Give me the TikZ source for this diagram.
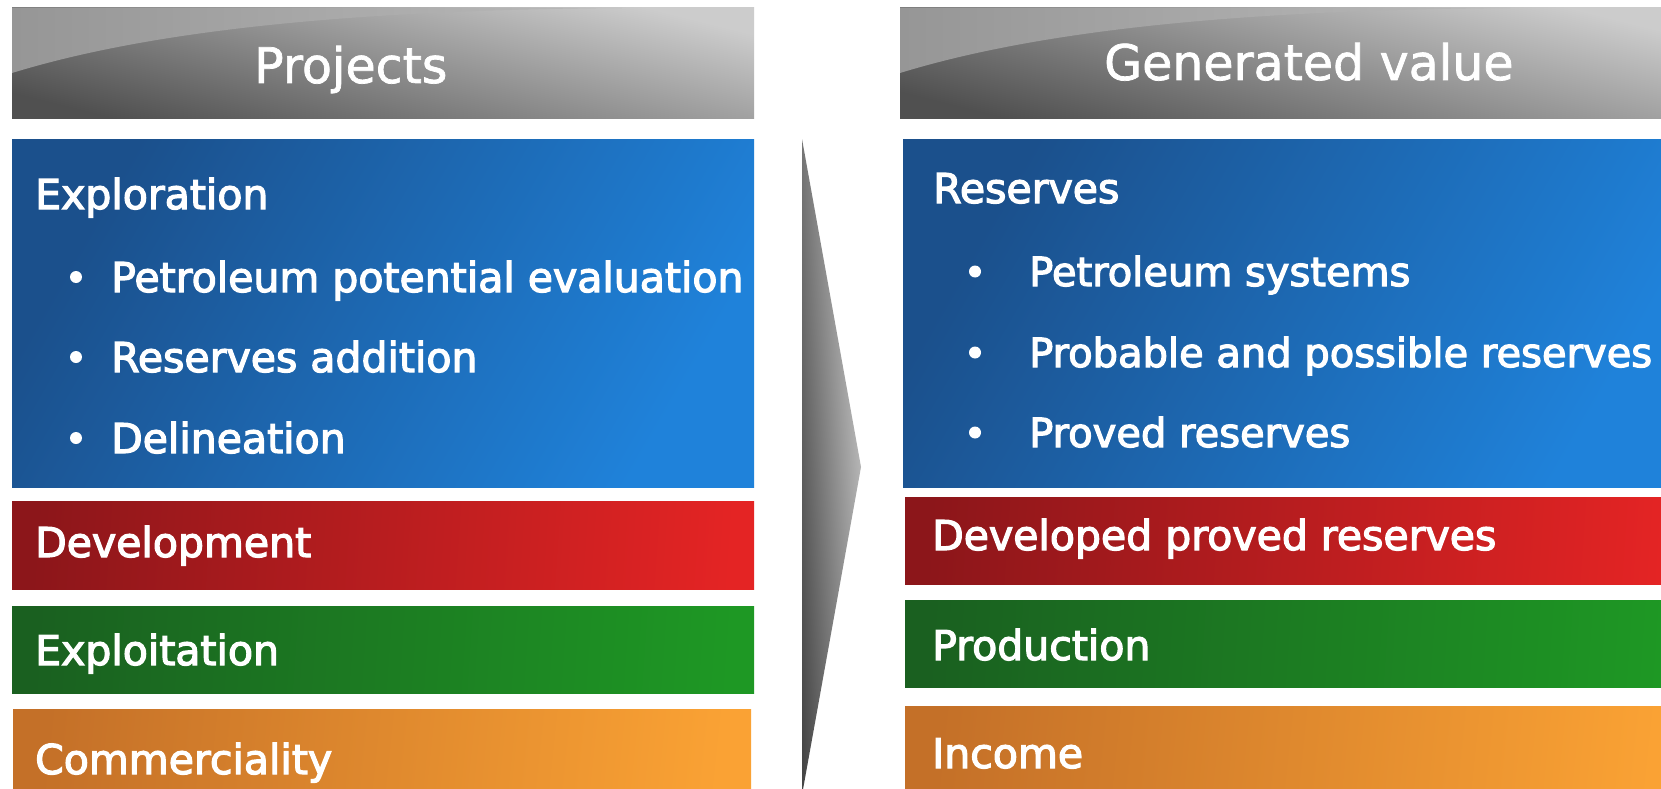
\documentclass[tikz,border=0pt]{standalone}
\usepackage{fontspec}
\setmainfont{DejaVu Sans}
\newfontfamily\boxfont{DejaVu Sans}[FakeBold=3]
\newfontfamily\hdrfont{DejaVu Sans}[FakeBold=1.5]
\usetikzlibrary{calc}

\tikzset{
  panel/.style n args={3}{anchor=north west, inner sep=0pt, outer sep=0pt,
    left color=#1, right color=#2, shading angle=#3},
  hdr/.style={anchor=north west, inner sep=0pt, outer sep=0pt, minimum height=111pt,
    top color=hdrLight, bottom color=hdrDark, shading angle=-14,
    path picture={
      \coordinate (nw) at (path picture bounding box.north west);
      \shade[left color=swooshA, right color=swooshB]
        (nw) -- ($(nw)+(610,0)$) .. controls ($(nw)+(340,2)$) and ($(nw)+(140,22)$) .. ($(nw)+(0,65)$) -- cycle;
    }},
  hdrtxt/.style={anchor=base west, inner sep=0pt, text=white, font=\hdrfont\fontsize{49}{58}\selectfont},
  lbl/.style={anchor=base west, inner sep=0pt, text=white, font=\boxfont\fontsize{41}{49}\selectfont},
  dot/.style={circle, fill=white, inner sep=0pt, minimum size=12pt}
}

\begin{document}
\begin{tikzpicture}[x=1pt,y=-1pt]
  \definecolor{hdrLight}{RGB}{204,204,204}
  \definecolor{hdrDark}{RGB}{80,80,80}
  \definecolor{swooshA}{RGB}{150,150,150}
  \definecolor{swooshB}{RGB}{186,186,186}
  \definecolor{blueA}{RGB}{27,80,140}
  \definecolor{blueB}{RGB}{31,130,218}
  \definecolor{redA}{RGB}{140,22,26}
  \definecolor{redB}{RGB}{228,36,36}
  \definecolor{greenA}{RGB}{26,96,32}
  \definecolor{greenB}{RGB}{30,152,36}
  \definecolor{orangeA}{RGB}{196,112,40}
  \definecolor{orangeB}{RGB}{250,162,52}
  \definecolor{arrLight}{RGB}{204,204,204}
  \definecolor{arrDark}{RGB}{70,70,70}

  \clip (0,0) rectangle (1661,789);
  \fill[white] (0,0) rectangle (1661,789);

  % headers
  \node[hdr, minimum width=742pt] (hdrL) at (12,8) {};
  \node[hdr, minimum width=780pt] (hdrR) at (900,8) {};
  \node[hdrtxt] (projects) at (254,83) {Projects};
  \node[hdrtxt] (genvalue) at (1104,80) {Generated value};

  % left column: projects
  \node[panel={blueA}{blueB}{60}, minimum width=742pt, minimum height=348pt] (explore) at (12,139) {};
  \node[panel={redA}{redB}{86}, minimum width=742pt, minimum height=88pt] (develop) at (12,501) {};
  \node[panel={greenA}{greenB}{86}, minimum width=742pt, minimum height=87pt] (exploit) at (12,606) {};
  \node[panel={orangeA}{orangeB}{84}, minimum width=738pt, minimum height=100pt] (commerce) at (13,709) {};

  \node[lbl] (exploretxt) at (35,209) {Exploration};
  \foreach \y/\t [count=\i] in {292/Petroleum potential evaluation, 372/Reserves addition, 453/Delineation}{
      \node[dot] (ldot\i) at (76,\y-15) {};
      \node[lbl] (litem\i) at (111,\y) {\t};
    }
  \node[lbl] (developtxt) at (35,557) {Development};
  \node[lbl] (exploittxt) at (35,665) {Exploitation};
  \node[lbl] (commercetxt) at (35,774) {Commerciality};

  % arrow between the columns
  \shade[left color=arrDark, right color=arrLight, shading angle=93]
    (802,139) -- (861,467) -- (802,795) -- cycle;

  % right column: generated value
  \node[panel={blueA}{blueB}{60}, minimum width=780pt, minimum height=348pt] (reserves) at (903,139) {};
  \node[panel={redA}{redB}{86}, minimum width=780pt, minimum height=87pt] (devproved) at (905,497) {};
  \node[panel={greenA}{greenB}{86}, minimum width=780pt, minimum height=87pt] (produce) at (905,600) {};
  \node[panel={orangeA}{orangeB}{84}, minimum width=780pt, minimum height=100pt] (income) at (905,706) {};

  \node[lbl] (reservestxt) at (933,203) {Reserves};
  \foreach \y/\t [count=\i] in {286/Petroleum systems, 367/Probable and possible reserves, 447/Proved reserves}{
      \node[dot] (rdot\i) at (975,\y-14.5) {};
      \node[lbl, font=\boxfont\fontsize{40}{48}\selectfont] (ritem\i) at (1029,\y) {\t};
    }
  \node[lbl] (devprovedtxt) at (932,550) {Developed proved reserves};
  \node[lbl] (producetxt) at (932,660) {Production};
  \node[lbl] (incometxt) at (932,768) {Income};
\end{tikzpicture}
\end{document}
